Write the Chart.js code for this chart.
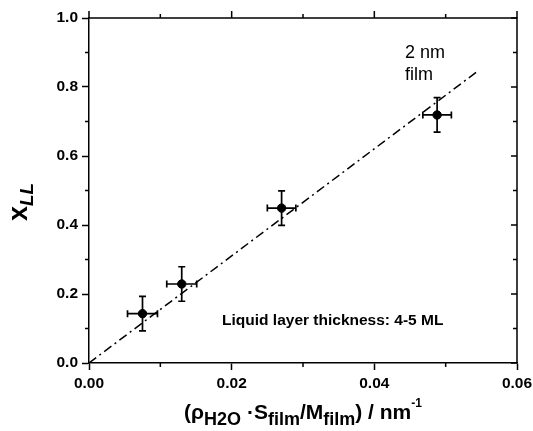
<!DOCTYPE html>
<html>
<head>
<meta charset="utf-8">
<script src="https://cdn.jsdelivr.net/npm/chart.js@4"></script>
<style>
  html, body { margin: 0; padding: 0; background: #fff; }
  #wrap { width: 533px; height: 431px; }
</style>
</head>
<body>
<div id="wrap"><canvas id="chart" width="533" height="431"></canvas></div>
<script>
// measured points (x, y) with symmetric error bars
const xValues = [0.0075, 0.013, 0.027, 0.0488];
const yValues = [0.143, 0.229, 0.449, 0.719];
const xErrors = [0.0021, 0.0021, 0.002, 0.002];
const yErrors = [0.05, 0.05, 0.05, 0.05];

// dash-dot guide line
const fitX = [0, 0.0545];
const fitY = [0, 0.846];

const xTicks = [0, 0.01, 0.02, 0.03, 0.04, 0.05, 0.06];
const yTicks = [0, 0.1, 0.2, 0.3, 0.4, 0.5, 0.6, 0.7, 0.8, 0.9, 1.0];

const FONT = 'Arial, "Liberation Sans", sans-serif';
Chart.defaults.font.family = FONT;
Chart.defaults.color = '#000';

const isMajorX = v => Math.round(v * 100) % 2 === 0;
const isMajorY = v => Math.round(v * 10) % 2 === 0;

// error bars, extra ticks, frame and all the text labels
const decorations = {
    id: 'decorations',
    afterDatasetsDraw(chart) {
        const ctx = chart.ctx;
        const xs = chart.scales.x;
        const ys = chart.scales.y;
        const a = chart.chartArea;
        ctx.save();
        ctx.strokeStyle = '#000';
        ctx.fillStyle = '#000';

        // error bars
        ctx.lineWidth = 1.7;
        const cap = 3.5;
        for (let i = 0; i < xValues.length; i++) {
            const px = xs.getPixelForValue(xValues[i]);
            const py = ys.getPixelForValue(yValues[i]);
            const x0 = xs.getPixelForValue(xValues[i] - xErrors[i]);
            const x1 = xs.getPixelForValue(xValues[i] + xErrors[i]);
            const y0 = ys.getPixelForValue(yValues[i] - yErrors[i]);
            const y1 = ys.getPixelForValue(yValues[i] + yErrors[i]);
            ctx.beginPath();
            ctx.moveTo(x0, py); ctx.lineTo(x1, py);
            ctx.moveTo(x0, py - cap); ctx.lineTo(x0, py + cap);
            ctx.moveTo(x1, py - cap); ctx.lineTo(x1, py + cap);
            ctx.moveTo(px, y0); ctx.lineTo(px, y1);
            ctx.moveTo(px - cap, y0); ctx.lineTo(px + cap, y0);
            ctx.moveTo(px - cap, y1); ctx.lineTo(px + cap, y1);
            ctx.stroke();
        }

        // frame top + right
        ctx.lineWidth = 1.5;
        ctx.beginPath();
        ctx.moveTo(a.left, a.top); ctx.lineTo(a.right, a.top); ctx.lineTo(a.right, a.bottom);
        ctx.stroke();

        // minor ticks bottom/left (outward), top ticks outward, right ticks inward
        ctx.beginPath();
        xTicks.forEach(v => {
            const px = xs.getPixelForValue(v);
            if (!isMajorX(v)) { ctx.moveTo(px, a.bottom); ctx.lineTo(px, a.bottom + 4); }
            ctx.moveTo(px, a.top); ctx.lineTo(px, a.top - (isMajorX(v) ? 7 : 4));
        });
        yTicks.forEach(v => {
            const py = ys.getPixelForValue(v);
            if (!isMajorY(v)) { ctx.moveTo(a.left, py); ctx.lineTo(a.left - 4, py); }
            ctx.moveTo(a.right, py); ctx.lineTo(a.right - (isMajorY(v) ? 6 : 4), py);
        });
        ctx.stroke();

        // annotations
        ctx.textBaseline = 'alphabetic';
        ctx.textAlign = 'left';
        ctx.font = '18px ' + FONT;
        const ax = xs.getPixelForValue(0.0443);
        ctx.fillText('2 nm', ax, ys.getPixelForValue(0.884));
        ctx.fillText('film', ax, ys.getPixelForValue(0.820));
        ctx.font = 'bold 15.5px ' + FONT;
        ctx.fillText('Liquid layer thickness: 4-5 ML', xs.getPixelForValue(0.01865), ys.getPixelForValue(0.110));

        // x axis title with sub/superscripts
        const runs = [
            { t: '(', f: 'bold 21px', dy: 0 },
            { t: 'ρ', f: 'bold 21px', dy: 0 },
            { t: 'H2O', f: 'bold 18px', dy: 6 },
            { t: ' ·S', f: 'bold 21px', dy: 0 },
            { t: 'film', f: 'bold 18px', dy: 6 },
            { t: '/M', f: 'bold 21px', dy: 0 },
            { t: 'film', f: 'bold 18px', dy: 6 },
            { t: ') / nm', f: 'bold 21px', dy: 0 },
            { t: '-1', f: 'bold 12px', dy: -12 }
        ];
        let total = 0;
        runs.forEach(r => { ctx.font = r.f + ' ' + FONT; r.w = ctx.measureText(r.t).width; total += r.w; });
        let cx = (a.left + a.right) / 2 - total / 2;
        const base = 419;
        runs.forEach(r => {
            ctx.font = r.f + ' ' + FONT;
            ctx.fillText(r.t, cx, base + r.dy);
            cx += r.w;
        });

        // y axis title, rotated
        ctx.translate(27, 202);
        ctx.rotate(-Math.PI / 2);
        ctx.font = 'bold 27px ' + FONT;
        const wx = ctx.measureText('x').width;
        ctx.font = 'italic bold 19px ' + FONT;
        const wl = ctx.measureText('LL').width;
        const start = -(wx + wl) / 2;
        ctx.font = 'bold 27px ' + FONT;
        ctx.fillText('x', start, 0);
        ctx.font = 'italic bold 19px ' + FONT;
        ctx.fillText('LL', start + wx, 6);
        ctx.restore();
    }
};

const points = xValues.map((x, i) => ({ x, y: yValues[i] }));
const fitLine = fitX.map((x, i) => ({ x, y: fitY[i] }));

new Chart(document.getElementById('chart'), {
    type: 'scatter',
    data: {
        datasets: [
            {
                label: 'data',
                data: points,
                pointRadius: 4.2,
                pointHoverRadius: 4.2,
                backgroundColor: '#000',
                borderColor: '#000',
                order: 1
            },
            {
                type: 'line',
                label: 'fit',
                data: fitLine,
                borderColor: '#000',
                borderWidth: 1.5,
                borderDash: [9, 4, 2, 4],
                pointRadius: 0,
                fill: false,
                order: 2
            }
        ]
    },
    options: {
        responsive: false,
        animation: false,
        layout: { padding: { top: 18, right: 16, left: 0, bottom: 0 } },
        plugins: { legend: { display: false }, tooltip: { enabled: false } },
        scales: {
            x: {
                type: 'linear',
                min: 0,
                max: 0.06,
                afterFit: s => { s.height = 68; s.paddingRight = 0; s.paddingLeft = 0; },
                afterBuildTicks: s => { s.ticks = xTicks.map(v => ({ value: v })); },
                ticks: {
                    autoSkip: false,
                    maxRotation: 0,
                    padding: 4,
                    font: { size: 15.5, weight: 'bold' },
                    callback: v => isMajorX(v) ? v.toFixed(2) : ''
                },
                grid: {
                    drawOnChartArea: false,
                    tickLength: 7,
                    tickWidth: 1.5,
                    tickColor: c => isMajorX(c.tick.value) ? '#000' : 'rgba(0,0,0,0)'
                },
                border: { color: '#000', width: 1.5 }
            },
            y: {
                type: 'linear',
                min: 0,
                max: 1,
                afterFit: s => { s.width = 89; s.paddingTop = 0; s.paddingBottom = 0; },
                afterBuildTicks: s => { s.ticks = yTicks.map(v => ({ value: v })); },
                ticks: {
                    autoSkip: false,
                    padding: 4,
                    font: { size: 15.5, weight: 'bold' },
                    callback: v => isMajorY(v) ? v.toFixed(1) : ''
                },
                grid: {
                    drawOnChartArea: false,
                    tickLength: 7,
                    tickWidth: 1.5,
                    tickColor: c => isMajorY(c.tick.value) ? '#000' : 'rgba(0,0,0,0)'
                },
                border: { color: '#000', width: 1.5 }
            }
        }
    },
    plugins: [decorations]
});
</script>
</body>
</html>
